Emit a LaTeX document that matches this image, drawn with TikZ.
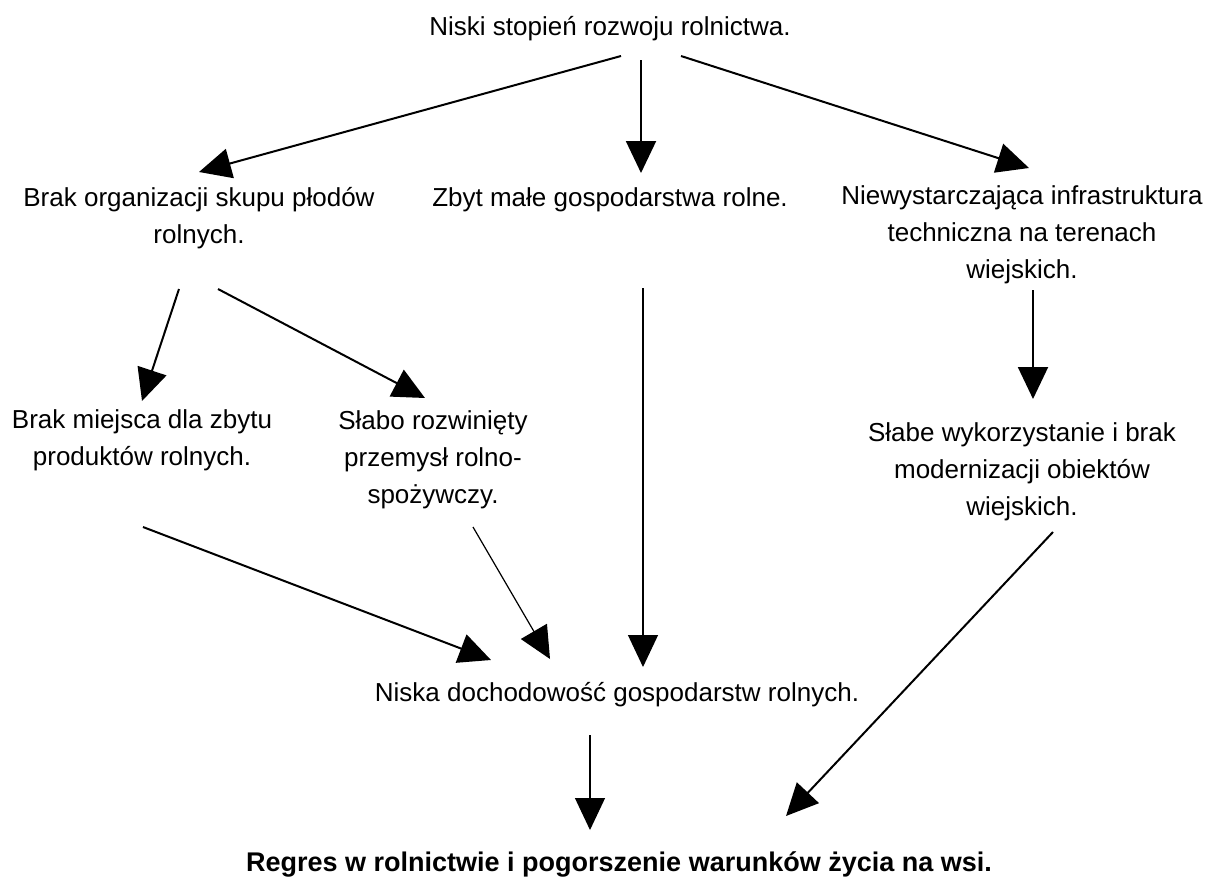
\documentclass[tikz,border=0pt]{standalone}
\usepackage{fontspec}
\setmainfont{Liberation Sans}
\usepackage{tikz}
\usetikzlibrary{arrows.meta,positioning,calc}
\tikzset{
  cause/.style={align=center, inner sep=0pt},
  effect/.style={align=center, inner sep=0pt, font=\fontsize{27}{37}\selectfont\bfseries},
  arrow/.style={-{Triangle[length=32pt,width=30pt]}, line width=2pt},
  thinarrow/.style={arrow, line width=1.2pt}
}

\begin{document}
\begin{tikzpicture}[x=1pt, y=-1pt, font=\fontsize{26}{37}\selectfont]
  \useasboundingbox (0,0) rectangle (1209,881);

  \node[cause] (niski) at (610,29) {Niski stopień rozwoju rolnictwa.};
  \node[cause] (brak) at (199,218) {Brak organizacji skupu płodów\\rolnych.};
  \node[cause] (zbyt) at (610,200) {Zbyt małe gospodarstwa rolne.};
  \node[cause] (niew) at (1022,235) {Niewystarczająca infrastruktura\\techniczna na terenach\\wiejskich.};
  \node[cause] (miejsce) at (142,440) {Brak miejsca dla zbytu\\produktów rolnych.};
  \node[cause] (slabo) at (433,460) {Słabo rozwinięty\\przemysł rolno-\\spożywczy.};
  \node[cause] (slabe) at (1022,472) {Słabe wykorzystanie i brak\\modernizacji obiektów\\wiejskich.};
  \node[cause] (niska) at (617,695) {Niska dochodowość gospodarstw rolnych.};
  \node[effect] (regres) at (619,864) {Regres w rolnictwie i pogorszenie warunków życia na wsi.};

  % first level
  \draw[arrow] ([shift={(11,27)}]niski.center) -- ([shift={(0,-46)}]brak.center);
  \draw[arrow] ([shift={(31,31)}]niski.center) -- ([shift={(31,-27)}]zbyt.center);
  \draw[arrow] ([shift={(71,27)}]niski.center) -- ([shift={(7,-67)}]niew.center);

  % second level
  \draw[arrow] ([shift={(-20,71)}]brak.center) -- ([shift={(0,-39)}]miejsce.center);
  \draw[arrow] ([shift={(19,71)}]brak.center) -- ([shift={(-8,-62)}]slabo.center);
  \draw[arrow] ([shift={(11,55)}]niew.center) -- ([shift={(11,-73)}]slabe.center);

  % towards the income
  \draw[arrow] ([shift={(1,87)}]miejsce.center) -- ([shift={(-126,-35)}]niska.center);
  \draw[thinarrow] ([shift={(40,67)}]slabo.center) -- ([shift={(-67,-36)}]niska.center);
  \draw[thinarrow] ([shift={(33,88)}]zbyt.center) -- ([shift={(26,-28)}]niska.center);

  % final effect
  \draw[thinarrow] ([shift={(-27,40)}]niska.center) -- ([shift={(-29,-34)}]regres.center);
  \draw[arrow] ([shift={(31,60)}]slabe.center) -- ([shift={(167,-48)}]regres.center);
\end{tikzpicture}
\end{document}
